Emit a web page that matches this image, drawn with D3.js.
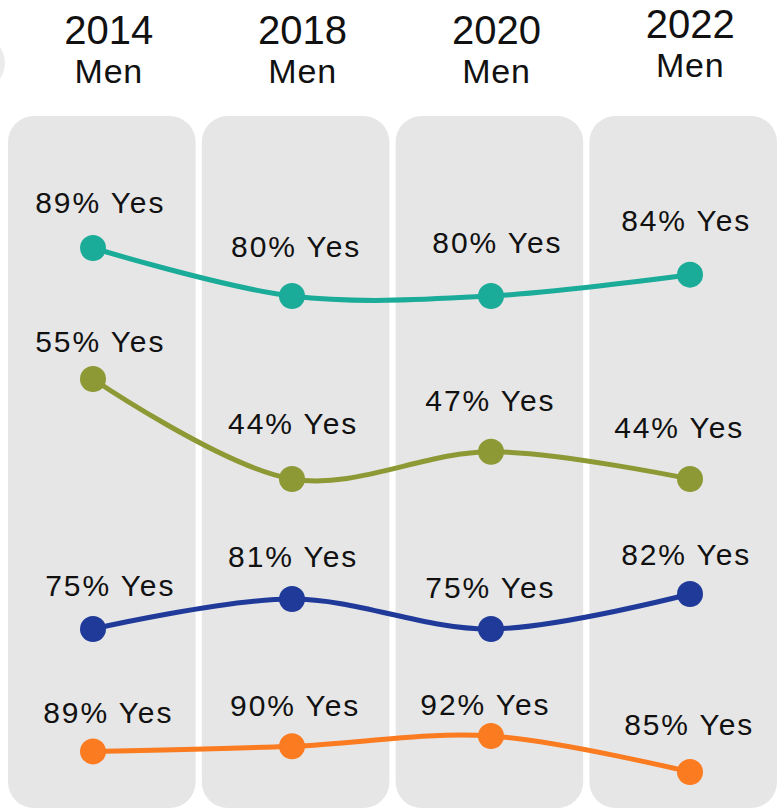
<!DOCTYPE html>
<html>
<head>
<meta charset="utf-8">
<script src="https://cdn.jsdelivr.net/npm/d3@7"></script>
<style>
  body { margin: 0; background: #fff; }
</style>
</head>
<body>
<script>
// data
const years = ["2014", "2018", "2020", "2022"];
const subgroup = "Men";
const tealValues = [89, 80, 80, 84];
const oliveValues = [55, 44, 47, 44];
const blueValues = [75, 81, 75, 82];
const orangeValues = [89, 90, 92, 85];

// canvas
const canvWidth = 779, canvHeight = 811;
const svg = d3.select("body").append("svg")
    .attr("width", canvWidth)
    .attr("height", canvHeight)
    .style("font-family", "'Liberation Sans', Arial, sans-serif");

// each series sits in its own band, so it gets its own y scale
const series = [
    {values: tealValues,   color: "#1aab99", domain: [80, 89], range: [296, 248],
        labelDy: [35, 39, 43, 44], labelDx: [-1.5, 0.5, 8, 3]},
    {values: oliveValues,  color: "#8d9934", domain: [44, 55], range: [479, 379],
        labelDy: [27, 45, 41, 41], labelDx: [-1.5, -2.5, 1, -4]},
    {values: blueValues,   color: "#203a9a", domain: [75, 82], range: [629, 594],
        labelDy: [33, 32, 31, 29], labelDx: [8.5, -2.5, 1, 3]},
    {values: orangeValues, color: "#fa7b20", domain: [85, 92], range: [772, 736],
        labelDy: [28, 30, 21, 37], labelDx: [6.5, -0.5, -4, 6]}
];

// x scales: one for the gray columns, one for the points
const xBand = d3.scaleBand().domain(years).range([8, 777]).paddingInner(0.032);
const xPoint = d3.scalePoint().domain(years).range([93, 690]);

// partial circle cut off at the left edge
svg.append("circle")
    .attr("cx", -22)
    .attr("cy", 63)
    .attr("r", 27)
    .attr("fill", "#ebebeb");

// gray columns
svg.selectAll("rect.col")
    .data(years)
    .enter()
    .append("rect")
    .attr("class", "col")
    .attr("x", d => xBand(d))
    .attr("y", 116)
    .attr("width", xBand.bandwidth())
    .attr("height", 692)
    .attr("rx", 26)
    .attr("fill", "#e6e6e6");

// headers
const headerShift = [0, 0, 0, -6];
const header = svg.selectAll("g.header")
    .data(years)
    .enter()
    .append("g")
    .attr("class", "header")
    .attr("transform", (d, i) => "translate(" + (xBand(d) + xBand.bandwidth() / 2 + 7) + "," + headerShift[i] + ")");

header.append("text")
    .attr("y", 44)
    .attr("text-anchor", "middle")
    .attr("font-size", "40px")
    .attr("fill", "#111")
    .text(d => d);

header.append("text")
    .attr("y", 83)
    .attr("text-anchor", "middle")
    .attr("font-size", "34px")
    .attr("letter-spacing", "0.8px")
    .attr("fill", "#111")
    .text(subgroup);

const line = d3.line()
    .x(d => d.x)
    .y(d => d.y)
    .curve(d3.curveCatmullRom.alpha(0.5));

series.forEach(s => {
    const y = d3.scaleLinear().domain(s.domain).range(s.range);
    const pts = s.values.map((v, i) => ({v: v, i: i, x: xPoint(years[i]), y: y(v)}));

    svg.append("path")
        .datum(pts)
        .attr("d", line)
        .attr("fill", "none")
        .attr("stroke", s.color)
        .attr("stroke-width", 5);

    svg.selectAll(null)
        .data(pts)
        .enter()
        .append("circle")
        .attr("cx", d => d.x)
        .attr("cy", d => d.y)
        .attr("r", 13)
        .attr("fill", s.color);

    svg.selectAll(null)
        .data(pts)
        .enter()
        .append("text")
        .attr("x", d => xBand(years[d.i]) + xBand.bandwidth() / 2 + s.labelDx[d.i])
        .attr("y", d => d.y - s.labelDy[d.i])
        .attr("text-anchor", "middle")
        .attr("font-size", "30px")
        .attr("letter-spacing", "1.9px")
        .attr("fill", "#111")
        .text(d => d.v + "% Yes");
});
</script>
</body>
</html>
